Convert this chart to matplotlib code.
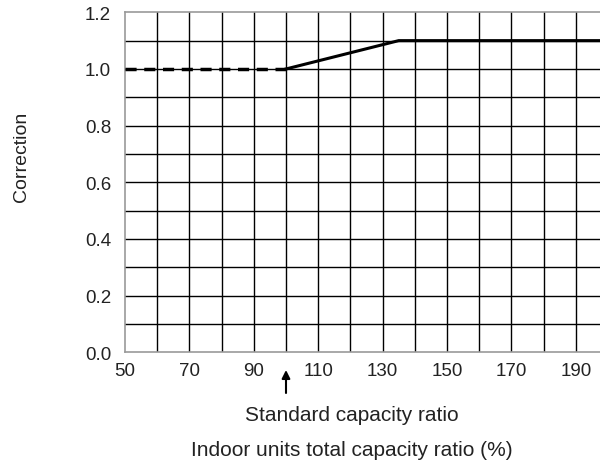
import matplotlib
matplotlib.use("Agg")
import matplotlib.pyplot as plt
import numpy as np

plt.rcParams["font.family"] = ["Liberation Sans", "DejaVu Sans"]

# correction curve
dashed_x = [50, 100]
dashed_y = [1.0, 1.0]
solid_x = [100, 135, 200]
solid_y = [1.0, 1.1, 1.1]

x_ticks = [50, 70, 90, 110, 130, 150, 170, 190]
y_ticks = [0.0, 0.2, 0.4, 0.6, 0.8, 1.0, 1.2]
standard_ratio = 100

fig = plt.figure(figsize=(6, 4.64), dpi=100)
W, H = 600, 464
left, right, bottom, top = 125, 608, 353.3, 13.3
ax = fig.add_axes([left / W, 1 - bottom / H, (right - left) / W, (bottom - top) / H])

ax.set_xlim(50, 200)
ax.set_ylim(0, 1.2)

# grid every 10 % and every 0.1
for gx in np.arange(60, 200, 10):
    ax.axvline(gx, color="black", linewidth=1.0, zorder=1)
for gy in np.arange(0.1, 1.2, 0.1):
    ax.axhline(gy, color="black", linewidth=1.0, zorder=1)

ax.plot(dashed_x, dashed_y, color="black", linewidth=2.5,
        dashes=(3.2, 2.2), zorder=3, solid_capstyle="butt")
ax.plot(solid_x, solid_y, color="black", linewidth=2.2, zorder=3)

ax.set_xticks(x_ticks)
ax.set_yticks(y_ticks)
ax.set_yticklabels([f"{v:.1f}" for v in y_ticks])
ax.tick_params(axis="both", length=0, labelsize=13.5, colors="#222222")
ax.tick_params(axis="x", pad=7)
ax.tick_params(axis="y", pad=10)

for side in ["left", "bottom", "top"]:
    ax.spines[side].set_color("#999999")
    ax.spines[side].set_linewidth(1.2)
ax.spines["right"].set_visible(False)

# arrow marking the standard capacity ratio
ax.annotate("", xy=(standard_ratio, 1 - 371 / H), xytext=(standard_ratio, 1 - 394 / H),
            xycoords=("data", "figure fraction"), textcoords=("data", "figure fraction"),
            arrowprops=dict(arrowstyle="-|>", color="black", lw=1.5,
                            mutation_scale=12, shrinkA=0, shrinkB=0))

fig.text(352 / W, 1 - 416 / H, "Standard capacity ratio", ha="center", va="center",
         fontsize=15, color="#222222")
fig.text(352 / W, 1 - 451 / H, "Indoor units total capacity ratio (%)", ha="center",
         va="center", fontsize=15, color="#222222")
fig.text(22 / W, 1 - 157 / H, "Correction", ha="center", va="center", rotation=90,
         fontsize=14, color="#222222")

fig.savefig("out.png", dpi=100)
